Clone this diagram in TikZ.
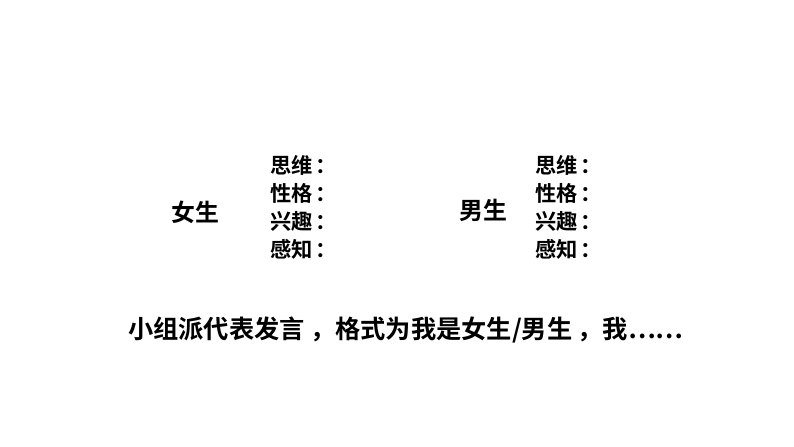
\documentclass[tikz,border=0pt]{standalone}
\usepackage{fontspec}
\newfontfamily\cjk{Noto Sans CJK SC}[BoldFont={* Bold}]
\begin{document}
\begin{tikzpicture}[x=0.02646cm,y=-0.02646cm,
  t/.style={font=\cjk\bfseries\fontsize{16pt}{18pt}\selectfont,inner sep=0pt},
  big/.style={font=\cjk\bfseries\fontsize{18pt}{20pt}\selectfont,inner sep=0pt},
  it/.style={t,anchor=west}]
\useasboundingbox (0,0) rectangle (794,447);
\node[big] (f) at (195,212) {女生};
\node[it] (f1) at (270,165) {思维\hspace{2pt}：};
\node[it] (f2) at (270,193) {性格\hspace{2pt}：};
\node[it] (f3) at (270,221) {兴趣\hspace{2pt}：};
\node[it] (f4) at (270,249) {感知\hspace{2pt}：};
\node[big] (m) at (483,210) {男生};
\node[it] (m1) at (535,165) {思维\hspace{2pt}：};
\node[it] (m2) at (535,193) {性格\hspace{2pt}：};
\node[it] (m3) at (535,221) {兴趣\hspace{2pt}：};
\node[it] (m4) at (535,249) {感知\hspace{2pt}：};
\node[big,anchor=west,font=\cjk\bfseries\fontsize{19pt}{22pt}\selectfont] (b) at (128,330) {小组派代表发言\hspace{4pt}，格式为我是女生/男生\hspace{4pt}，我……};
\end{tikzpicture}
\end{document}
